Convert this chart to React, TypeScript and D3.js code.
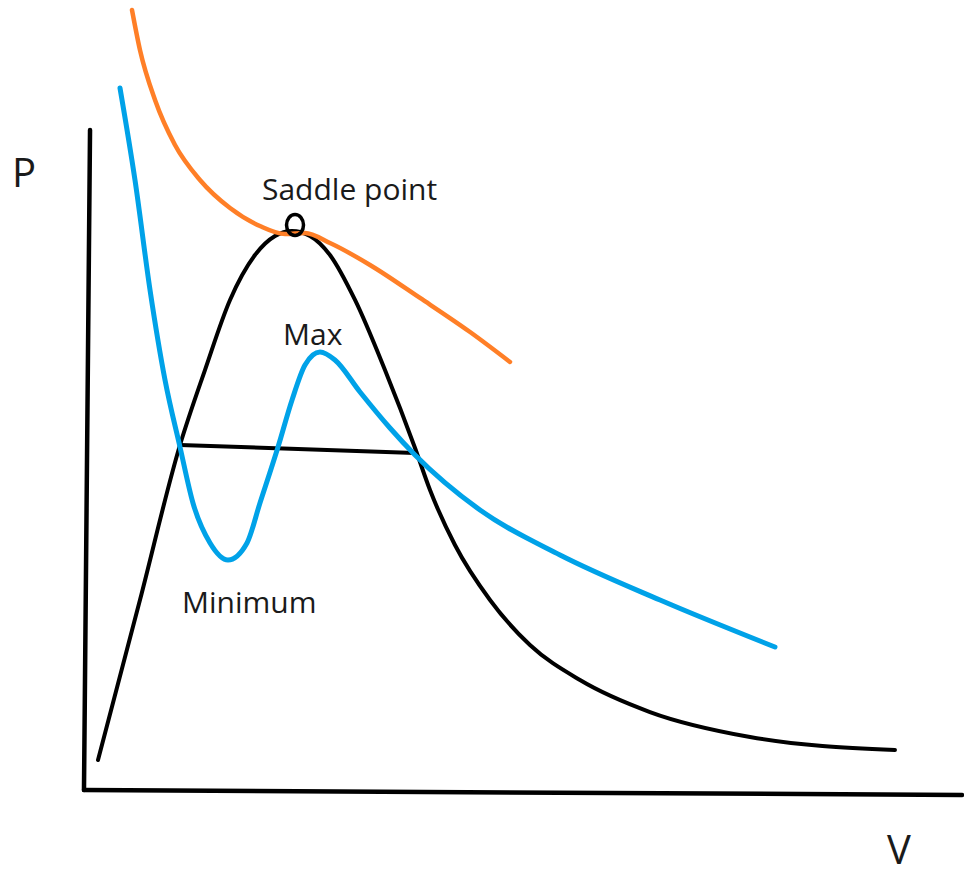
import React from 'react';
import * as d3 from 'd3';

// hand-drawn P-V sketch, values in arbitrary units (V: 0-100, P: 0-100)
const coexistV = [1.37, 6.16, 10.73, 13.58, 16.44, 19.29, 21.58, 23.52, 25.57, 27.85, 30.71, 34.13, 37.56, 39.27, 42.12, 46.12, 50.68, 56.39, 64.38, 75.8, 92.35];
const coexistP = [3.8, 24.05, 43.67, 53.16, 62.03, 67.72, 70.13, 70.76, 70.13, 67.72, 62.03, 53.16, 43.29, 37.97, 31.01, 24.05, 18.35, 13.92, 9.87, 6.71, 5.06];

const tieV = [10.73, 37.56];
const tieP = [43.67, 42.66];

const isothermV = [3.88, 5.59, 7.31, 9.02, 10.73, 12.21, 14.16, 16.21, 18.38, 19.86, 21.92, 23.52, 25.0, 26.71, 28.42, 31.28, 34.7, 37.56, 44.98, 54.11, 65.53, 78.65];
const isothermP = [88.86, 77.22, 63.29, 51.9, 43.42, 36.33, 31.27, 29.11, 31.27, 36.33, 43.42, 49.37, 53.8, 55.44, 54.43, 50.38, 45.82, 42.41, 35.44, 29.75, 24.05, 18.1];

const criticalV = [5.25, 6.16, 7.88, 10.16, 13.01, 16.44, 19.86, 22.72, 25.0, 27.85, 32.42, 38.13, 43.84, 48.4];
const criticalP = [98.73, 93.67, 87.34, 81.65, 77.22, 73.67, 71.39, 70.38, 70.51, 69.24, 66.46, 62.28, 57.97, 54.18];

const yAxisV = [0.46, -0.23];
const yAxisP = [83.54, 0];
const xAxisV = [-0.23, 100];
const xAxisP = [0, -0.63];

const saddle = { v: 23.86, p: 71.52 };

const labels = [
  { text: 'Saddle point', v: 20.09, p: 74.68, size: 30 },
  { text: 'Max', v: 22.49, p: 56.33, size: 30 },
  { text: 'Minimum', v: 10.96, p: 22.41, size: 30 },
  { text: 'P', v: -8.45, p: 76.33, size: 40 },
  { text: 'V', v: 91.44, p: -9.37, size: 40 },
];

const W = 964;
const H = 873;

const x = d3.scaleLinear().domain([0, 100]).range([86, 962]);
const y = d3.scaleLinear().domain([0, 100]).range([790, 0]);

const zip = (vs: number[], ps: number[]) => vs.map((v, i) => [v, ps[i]] as [number, number]);

const smooth = d3.line<[number, number]>()
  .x(d => x(d[0]))
  .y(d => y(d[1]))
  .curve(d3.curveMonotoneX);

const straight = d3.line<[number, number]>()
  .x(d => x(d[0]))
  .y(d => y(d[1]));

export default function App() {
  return (
    <svg width={W} height={H} style={{ position: 'absolute', left: 0, top: 0, background: '#fff' }}>
      <g fill="none" strokeLinecap="round" strokeLinejoin="round">
        <path d={straight(zip(yAxisV, yAxisP)) || ''} stroke="#000" strokeWidth={4.5} />
        <path d={straight(zip(xAxisV, xAxisP)) || ''} stroke="#000" strokeWidth={4.5} />
        <path d={straight(zip(tieV, tieP)) || ''} stroke="#000" strokeWidth={4} />
        <path d={smooth(zip(coexistV, coexistP)) || ''} stroke="#000" strokeWidth={4} />
        <path d={smooth(zip(isothermV, isothermP)) || ''} stroke="#00a2e8" strokeWidth={5} />
        <path d={smooth(zip(criticalV, criticalP)) || ''} stroke="#ff7f27" strokeWidth={4.5} />
        <ellipse cx={x(saddle.v)} cy={y(saddle.p)} rx={8.5} ry={10.5} stroke="#000" strokeWidth={3.5} />
      </g>
      <g fontFamily="'Open Sans', 'Noto Sans', sans-serif" fill="#1a1a1a">
        {labels.map(l => (
          <text key={l.text} x={x(l.v)} y={y(l.p)} fontSize={l.size}>{l.text}</text>
        ))}
      </g>
    </svg>
  );
}
